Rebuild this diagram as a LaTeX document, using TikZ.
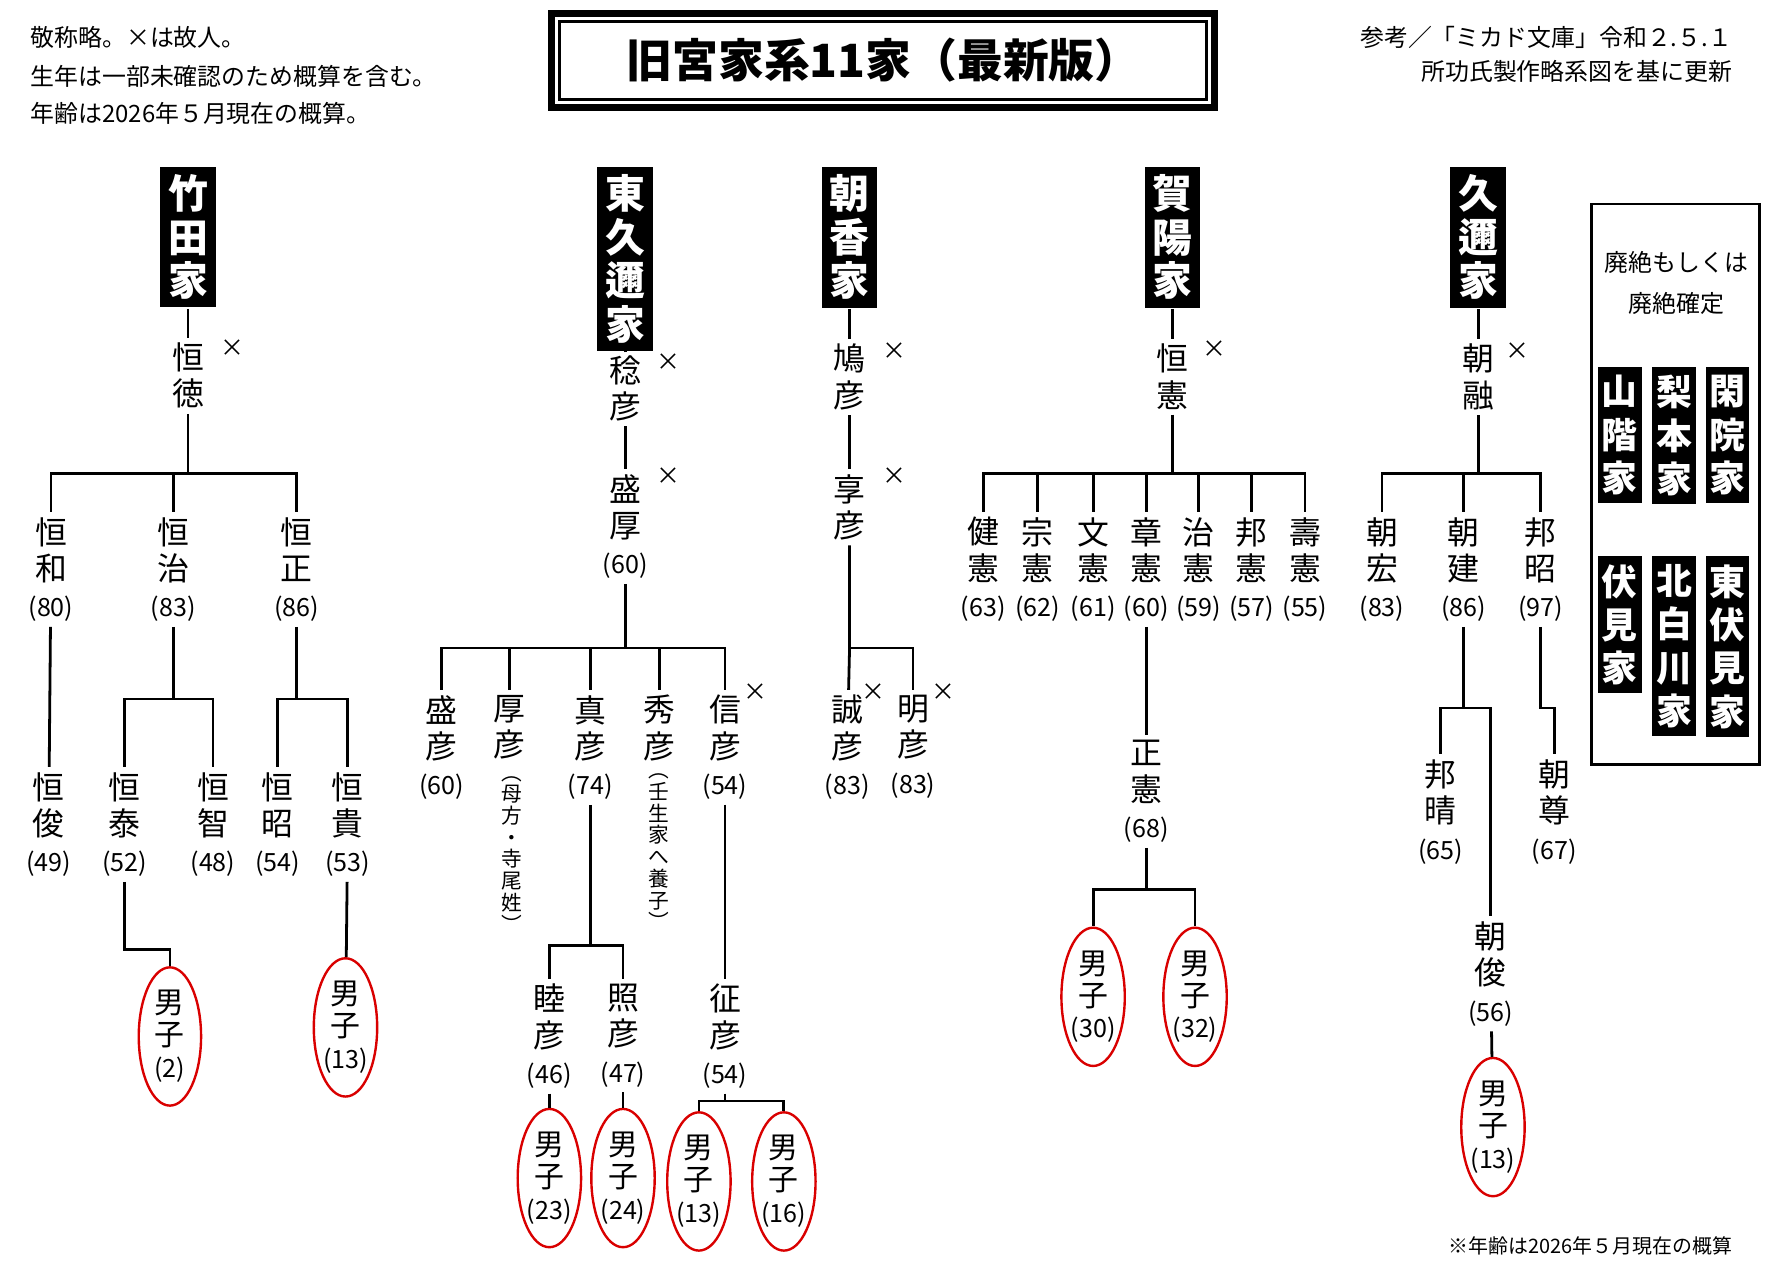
\documentclass[tikz,border=0pt]{standalone}
\usepackage{fontspec}
\setmainfont{Noto Sans CJK JP}
\usetikzlibrary{shapes.geometric, positioning}
\newcommand{\persfont}{\fontsize{8}{9.1}\selectfont}
\newcommand{\headfont}{\fontsize{10}{10.9}\selectfont\bfseries}
\newcommand{\agefont}{\fontsize{6.3}{7}\selectfont}
\newcommand{\notefont}{\fontsize{6}{7}\selectfont}
\newcommand{\annfont}{\fontsize{5.2}{5.45}\selectfont}
\tikzset{
  head/.style={fill=black, text=white, font=\headfont, align=center, inner sep=2pt, anchor=north},
  lost/.style={head, font=\fontsize{9}{10.9}\selectfont\bfseries, inner xsep=1pt},
  pers/.style={font=\persfont, align=center, inner sep=1pt, anchor=north},
  son/.style={ellipse, draw=red!85!black, line width=0.6pt, minimum width=0.55cm, minimum height=1.22cm,
    inner sep=0pt, align=center, font=\fontsize{7.5}{8}\selectfont},
  dead/.style={font=\fontsize{6}{6}\selectfont, inner sep=0pt},
  ann/.style={font=\annfont, align=center, inner sep=0pt, anchor=north},
}
\begin{document}
\begin{tikzpicture}[x=0.01cm, y=-0.01cm, line width=0.7pt]
  \useasboundingbox (0,0) rectangle (1567,1130);
  % header
  \node[font=\notefont, anchor=west] at (14,33) {敬称略。×は故人。};
  \node[font=\notefont, anchor=west] at (14,67) {生年は一部未確認のため概算を含む。};
  \node[font=\notefont, anchor=west] at (14,100) {年齢は2026年５月現在の概算。};
  \draw[line width=1.6pt] (487,12) rectangle (1072,95);
  \draw (494,19) rectangle (1065,88);
  \node[font=\fontsize{11.5}{12}\selectfont\bfseries] (title) at (780,53) {旧宮家系11家（最新版）};
  \node[font=\notefont, anchor=east] at (1542,33) {参考／「ミカド文庫」令和２.５.１};
  \node[font=\notefont, anchor=east] at (1542,63) {所功氏製作略系図を基に更新};
  \node[font=\fontsize{5}{6}\selectfont, anchor=east] at (1542,1100) {※年齢は2026年５月現在の概算};

  % Takeda
  \node[head] (take) at (166,146) {竹\\田\\家};
  \node[pers] (t0) at (166,298) {恒\\徳};
  \node[dead] at (205,307) {×};
  \node[pers] (t1) at (45,452) {恒\\和\\{\agefont(80)}};
  \node[pers] (t2) at (153,452) {恒\\治\\{\agefont(83)}};
  \node[pers] (t3) at (262,452) {恒\\正\\{\agefont(86)}};
  \node[pers] (t11) at (43,677) {恒\\俊\\{\agefont(49)}};
  \node[pers] (t21) at (110,677) {恒\\泰\\{\agefont(52)}};
  \node[pers] (t22) at (188,677) {恒\\智\\{\agefont(48)}};
  \node[pers] (t31) at (245,677) {恒\\昭\\{\agefont(54)}};
  \node[pers] (t32) at (307,677) {恒\\貴\\{\agefont(53)}};
  \node[son] (s1) at (150,915) {男\\子\\{\agefont(2)}};
  \node[son] (s2) at (305,907) {男\\子\\{\agefont(13)}};
  \coordinate (bT) at (166,418);
  \coordinate (bT2) at (153,617);
  \coordinate (bT3) at (262,617);
  \coordinate (kT) at (150,838);
  \draw (take) -- (t0);
  \draw (t0) -- (bT);
  \foreach \c in {t1,t2,t3} \draw (bT) -| (\c.north);
  \draw (t1) -- (t11);
  \draw (t2) -- (bT2);
  \foreach \c in {t21,t22} \draw (bT2) -| (\c.north);
  \draw (t3) -- (bT3);
  \foreach \c in {t31,t32} \draw (bT3) -| (\c.north);
  \draw (t21) |- (kT) -- (s1);
  \draw (t32) -- (s2);

  % Higashikuni
  \node[head] (higa) at (552,146) {東\\久\\邇\\家};
  \node[pers] (h1) at (552,309) {稔\\彦};
  \node[dead] at (590,320) {×};
  \node[pers] (h2) at (552,414) {盛\\厚\\{\agefont(60)}};
  \node[dead] at (590,420) {×};
  \node[pers] (h21) at (390,609) {盛\\彦\\{\agefont(60)}};
  \node[pers] (h22) at (450,609) {厚\\彦};
  \node[ann] at (452,684) {︵\\母\\方\\・\\寺\\尾\\姓\\︶};
  \node[pers] (h23) at (521,609) {真\\彦\\{\agefont(74)}};
  \node[pers] (h24) at (582,609) {秀\\彦};
  \node[ann] at (582,682) {︵\\壬\\生\\家\\へ\\養\\子\\︶};
  \node[pers] (h25) at (640,609) {信\\彦\\{\agefont(54)}};
  \node[dead] at (667,611) {×};
  \node[pers] (h231) at (485,864) {睦\\彦\\{\agefont(46)}};
  \node[pers] (h232) at (550,864) {照\\彦\\{\agefont(47)}};
  \node[pers] (h251) at (640,864) {征\\彦\\{\agefont(54)}};
  \node[son] (s3) at (485,1040) {男\\子\\{\agefont(23)}};
  \node[son] (s4) at (550,1040) {男\\子\\{\agefont(24)}};
  \node[son] (s5) at (617,1043) {男\\子\\{\agefont(13)}};
  \node[son] (s6) at (692,1043) {男\\子\\{\agefont(16)}};
  \coordinate (bH) at (552,572);
  \coordinate (bH3) at (521,835);
  \coordinate (bH5) at (640,972);
  \draw (higa) -- (h1);
  \draw (h1) -- (h2);
  \draw (h2) -- (bH);
  \foreach \c in {h21,h22,h23,h24,h25} \draw (bH) -| (\c.north);
  \draw (h23) -- (bH3);
  \foreach \c in {h231,h232} \draw (bH3) -| (\c.north);
  \draw (h231) -- (s3);
  \draw (h232) -- (s4);
  \draw (h25) -- (h251);
  \draw (h251) -- (bH5);
  \foreach \c in {s5,s6} \draw (bH5) -| (\c.north);

  % Asaka
  \node[head] (asa) at (750,146) {朝\\香\\家};
  \node[pers] (a1) at (750,299) {鳩\\彦};
  \node[dead] at (790,310) {×};
  \node[pers] (a2) at (750,414) {享\\彦};
  \node[dead] at (790,420) {×};
  \node[pers] (a21) at (748,609) {誠\\彦\\{\agefont(83)}};
  \node[dead] at (771,611) {×};
  \node[pers] (a22) at (806,609) {明\\彦\\{\agefont(83)}};
  \node[dead] at (833,611) {×};
  \coordinate (bA) at (750,572);
  \draw (asa) -- (a1);
  \draw (a1) -- (a2);
  \draw (a2) -- (bA) -- (a21);
  \draw (bA) -| (a22.north);

  % Kaya
  \node[head] (kaya) at (1035,146) {賀\\陽\\家};
  \node[pers] (k0) at (1035,299) {恒\\憲};
  \node[dead] at (1072,308) {×};
  \foreach \n/\x/\ch/\a in {1/868/健/63, 2/916/宗/62, 3/965/文/61, 4/1012/章/60,
                           5/1058/治/59, 6/1105/邦/57, 7/1152/壽/55}
    \node[pers] (k\n) at (\x,452) {\ch\\憲\\{\agefont(\a)}};
  \node[pers] (k41) at (1012,649) {正\\憲\\{\agefont(68)}};
  \node[son] (s7) at (965,880) {男\\子\\{\agefont(30)}};
  \node[son] (s8) at (1055,880) {男\\子\\{\agefont(32)}};
  \coordinate (bK) at (1035,418);
  \coordinate (bK4) at (1012,785);
  \draw (kaya) -- (k0);
  \draw (k0) -- (bK);
  \foreach \n in {1,...,7} \draw (bK) -| (k\n.north);
  \draw (k4) -- (k41);
  \draw (k41) -- (bK4);
  \foreach \c in {s7,s8} \draw (bK4) -| (\c.north);

  % Kuni
  \node[head] (kuni) at (1305,146) {久\\邇\\家};
  \node[pers] (q0) at (1305,299) {朝\\融};
  \node[dead] at (1340,310) {×};
  \node[pers] (q1) at (1220,452) {朝\\宏\\{\agefont(83)}};
  \node[pers] (q2) at (1292,452) {朝\\建\\{\agefont(86)}};
  \node[pers] (q3) at (1360,452) {邦\\昭\\{\agefont(97)}};
  \node[pers] (q21) at (1272,666) {邦\\晴\\{\agefont(65)}};
  \node[pers] (q22) at (1316,809) {朝\\俊\\{\agefont(56)}};
  \node[pers] (q31) at (1372,666) {朝\\尊\\{\agefont(67)}};
  \node[son] (s9) at (1318,995) {男\\子\\{\agefont(13)}};
  \coordinate (bQ) at (1305,418);
  \coordinate (bQ2) at (1292,625);
  \coordinate (kQ3) at (1372,625);
  \draw (kuni) -- (q0);
  \draw (q0) -- (bQ);
  \foreach \c in {q1,q2,q3} \draw (bQ) -| (\c.north);
  \draw (q2) -- (bQ2);
  \foreach \c in {q21,q22} \draw (bQ2) -| (\c.north);
  \draw (q3) |- (kQ3) -- (q31);
  \draw (q22) -- (s9);

  % extinct houses
  \draw (1405,180) rectangle (1553,675);
  \node[font=\notefont] at (1480,232) {廃絶もしくは};
  \node[font=\notefont] at (1480,268) {廃絶確定};
  \node[lost] (kan) at (1525,323) {閑\\院\\家};
  \node[lost] (nashi) at (1478,323) {梨\\本\\家};
  \node[lost] (yama) at (1430,323) {山\\階\\家};
  \node[lost] (higafu) at (1525,490) {東\\伏\\見\\家};
  \node[lost] (kita) at (1478,490) {北\\白\\川\\家};
  \node[lost] (fushi) at (1430,490) {伏\\見\\家};
\end{tikzpicture}
\end{document}
